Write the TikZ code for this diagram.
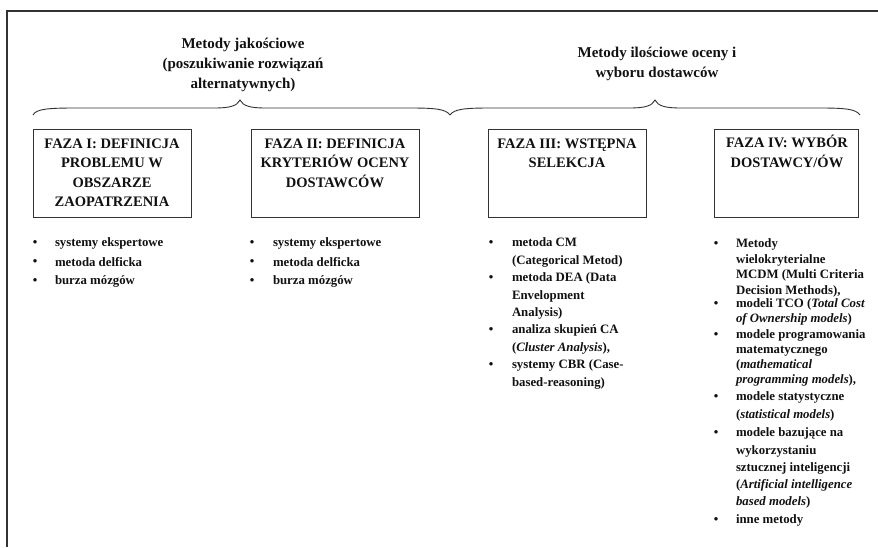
\documentclass[tikz,border=0pt]{standalone}
\usepackage{fontspec}
\setmainfont{Liberation Serif}
\definecolor{ink}{HTML}{111111}
\definecolor{edge}{HTML}{333333}
\begin{document}
\begin{tikzpicture}[x=1pt,y=-1pt,
  every node/.style={inner sep=0pt, outer sep=0pt, text=ink},
  phasebox/.style={draw=edge, line width=0.9pt, minimum height=88pt},
  phasetext/.style={anchor=north, align=center, font=\fontsize{14.5}{19.2}\selectfont\bfseries},
  headtext/.style={anchor=north, align=center, font=\fontsize{15}{20}\selectfont\bfseries},
  bul/.style={font=\fontsize{12.8}{15}\selectfont\bfseries},
  itemA/.style={anchor=north west, align=left, font=\fontsize{12.8}{17.2}\selectfont\bfseries},
  itemB/.style={anchor=north west, align=left, font=\fontsize{12.8}{15.5}\selectfont\bfseries},
  itemC/.style={anchor=north west, align=left, font=\fontsize{12.8}{15}\selectfont\bfseries},
  bracepath/.style={draw=edge, line width=0.9pt},
  framepath/.style={draw=edge, line width=1.2pt},
]
\path[use as bounding box] (0,0) rectangle (878,547);
% frame (top and left edges)
\draw[framepath] (7,547) -- (7,11) -- (878,11);

% headings
\node[headtext] (h1) at (243,38) {Metody jakościowe\\(poszukiwanie rozwiązań\\alternatywnych)};
\node[headtext] (h2) at (657,47.5) {Metody ilościowe oceny i\\wyboru dostawców};

% braces
\coordinate (lb1) at (33,115);
\coordinate (lbt) at (240,100);
\coordinate (mid) at (450,115);
\coordinate (rbt) at (655,100);
\coordinate (rb2) at (860,115);
\draw[bracepath] (lb1) .. controls (36,109) and (48,108) .. (75,108) -- (214,108)
  .. controls (230,108) and (237,106) .. (lbt)
  .. controls (243,106) and (250,108) .. (266,108) -- (410,108)
  .. controls (435,108) and (446,109) .. (mid);
\draw[bracepath] (mid) .. controls (454,109) and (465,108) .. (490,108) -- (629,108)
  .. controls (645,108) and (652,106) .. (rbt)
  .. controls (658,106) and (665,108) .. (681,108) -- (820,108)
  .. controls (845,108) and (856,109) .. (rb2);

% phase boxes
\node[phasebox, minimum width=158pt] (b1) at (112,173) {};
\node[phasebox, minimum width=168pt] (b2) at (335,173) {};
\node[phasebox, minimum width=158pt] (b3) at (567,173) {};
\node[phasebox, minimum width=144pt] (b4) at (786,173) {};
\node[phasetext] (t1) at (112,139) {FAZA I: DEFINICJA\\PROBLEMU W\\OBSZARZE\\ZAOPATRZENIA};
\node[phasetext] (t2) at (335,139) {FAZA II: DEFINICJA\\KRYTERIÓW OCENY\\DOSTAWCÓW};
\node[phasetext] (t3) at (567,139) {FAZA III: WSTĘPNA\\SELEKCJA};
\node[phasetext] (t4) at (787,135.5) {FAZA IV: WYBÓR\\DOSTAWCY/ÓW};

% list 1
\node[bul] (p1a) at (35,243.5) {\textbullet};
\node[bul] (p1b) at (35,262.5) {\textbullet};
\node[bul] (p1c) at (35,281.5) {\textbullet};
\node[itemA] (i1a) at (55,238) {systemy ekspertowe};
\node[itemA] (i1b) at (55,257.5) {metoda delficka};
\node[itemA] (i1c) at (55,276) {burza mózgów};

% list 2
\node[bul] (p2a) at (252,243.5) {\textbullet};
\node[bul] (p2b) at (252,262.5) {\textbullet};
\node[bul] (p2c) at (252,281.5) {\textbullet};
\node[itemA] (i2a) at (273,238) {systemy ekspertowe};
\node[itemA] (i2b) at (273,257.5) {metoda delficka};
\node[itemA] (i2c) at (273,276) {burza mózgów};

% list 3
\node[bul] (p3a) at (491,244) {\textbullet};
\node[bul] (p3b) at (491,279) {\textbullet};
\node[bul] (p3c) at (491,331) {\textbullet};
\node[bul] (p3d) at (491,366) {\textbullet};
\node[itemA] (i3a) at (512,238) {metoda CM\\(Categorical Metod)};
\node[itemA] (i3b) at (512,273) {metoda DEA (Data\\Envelopment\\Analysis)};
\node[itemA] (i3c) at (512,325) {analiza skupień CA\\(\textit{Cluster Analysis}),};
\node[itemA] (i3d) at (512,360) {systemy CBR (Case-\\based-reasoning)};

% list 4
\node[bul] (p4a) at (716,245) {\textbullet};
\node[bul] (p4b) at (716,305) {\textbullet};
\node[bul] (p4c) at (716,336) {\textbullet};
\node[bul] (p4d) at (716,398) {\textbullet};
\node[bul] (p4e) at (716,434) {\textbullet};
\node[bul] (p4f) at (716,521) {\textbullet};
\node[itemB] (i4a) at (736,239) {Metody\\wielokryterialne\\MCDM (Multi Criteria\\Decision Methods),};
\node[itemC] (i4b) at (736,299) {modeli TCO (\textit{Total Cost}\\\textit{of Ownership models})};
\node[itemC] (i4c) at (736,330) {modele programowania\\matematycznego\\(\textit{mathematical}\\\textit{programming models}),};
\node[itemA] (i4d) at (736,392) {modele statystyczne\\(\textit{statistical models})};
\node[itemA] (i4e) at (736,428) {modele bazujące na\\wykorzystaniu\\sztucznej inteligencji\\(\textit{Artificial intelligence}\\\textit{based models})};
\node[itemA] (i4f) at (736,515) {inne metody};
\end{tikzpicture}
\end{document}
